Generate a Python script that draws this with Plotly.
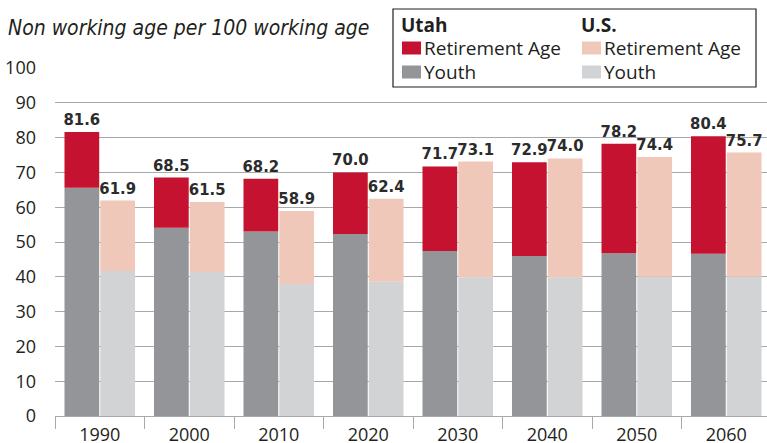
import plotly.graph_objects as go

years = ["1990", "2000", "2010", "2020", "2030", "2040", "2050", "2060"]
utah_total = [81.6, 68.5, 68.2, 70.0, 71.7, 72.9, 78.2, 80.4]
us_total = [61.9, 61.5, 58.9, 62.4, 73.1, 74.0, 74.4, 75.7]
utah_youth = [65.6, 54.1, 53.0, 52.3, 47.4, 46.0, 46.8, 46.6]
utah_retire = [16.0, 14.4, 15.2, 17.7, 24.3, 26.9, 31.4, 33.8]
us_youth = [41.7, 41.4, 37.9, 38.6, 39.9, 39.9, 40.0, 40.0]
us_retire = [20.2, 20.1, 21.0, 23.8, 33.2, 34.1, 34.4, 35.7]
y_ticks = [0, 10, 20, 30, 40, 50, 60, 70, 80, 90, 100]

C_UT_RET = "#C41230"
C_UT_YOU = "#939598"
C_US_RET = "#F0C8BA"
C_US_YOU = "#D1D3D4"
TXT = "#231F20"
COND = "DejaVu Sans Condensed, Liberation Sans Narrow, Arial Narrow, sans-serif"

W, H = 767, 443
ML, MR, MT, MB = 55, 0, 68, 27
PW, PH = W - ML - MR, H - MT - MB


def px(x):
    return (x - ML) / PW


def py(y):
    return (H - MB - y) / PH


label_font = dict(family=COND, size=16.5, color="#2B2B2B", weight="bold")

fig = go.Figure()
fig.add_trace(go.Bar(x=years, y=utah_youth, offsetgroup="utah", marker=dict(color=C_UT_YOU, line=dict(width=0)),
                     name="Utah Youth", showlegend=False, hoverinfo="skip"))
fig.add_trace(go.Bar(x=years, y=utah_retire, base=utah_youth, offsetgroup="utah",
                     marker=dict(color=C_UT_RET, line=dict(width=0)),
                     text=[f"{v:.1f}" for v in utah_total], textposition="outside", textfont=label_font,
                     constraintext="none", cliponaxis=False,
                     name="Utah Retirement Age", showlegend=False, hoverinfo="skip"))
fig.add_trace(go.Bar(x=years, y=us_youth, offsetgroup="us", marker=dict(color=C_US_YOU, line=dict(width=0)),
                     name="U.S. Youth", showlegend=False, hoverinfo="skip"))
fig.add_trace(go.Bar(x=years, y=us_retire, base=us_youth, offsetgroup="us",
                     marker=dict(color=C_US_RET, line=dict(width=0)),
                     text=[f"{v:.1f}" for v in us_total], textposition="outside", textfont=label_font,
                     constraintext="none", cliponaxis=False,
                     name="U.S. Retirement Age", showlegend=False, hoverinfo="skip"))

# Legend box and entries
shapes = [
    dict(type="rect", xref="paper", yref="paper", x0=px(393), x1=px(756), y0=py(87), y1=py(9),
         line=dict(color="#231F20", width=1.2), fillcolor="white", layer="above"),
]
annotations = [
    dict(text="<i>Non working age per 100 working age</i>", xref="paper", yref="paper",
         x=px(6), y=py(28), xanchor="left", yanchor="middle", showarrow=False,
         font=dict(family=COND, size=21, color=TXT)),
]
legend_cols = [
    (400, 402, 424, "Utah", [("Retirement Age", C_UT_RET), ("Youth", C_UT_YOU)]),
    (580, 582, 604, "U.S.", [("Retirement Age", C_US_RET), ("Youth", C_US_YOU)]),
]
for hx, sw_x0, txt_x, head, items in legend_cols:
    annotations.append(dict(text=f"<b>{head}</b>", xref="paper", yref="paper", x=px(hx - 1), y=py(25),
                            xanchor="left", yanchor="middle", showarrow=False,
                            font=dict(family="Open Sans", size=19, color=TXT)))
    for j, (lab, col) in enumerate(items):
        cy = 48 if j == 0 else 72
        shapes.append(dict(type="rect", xref="paper", yref="paper", x0=px(sw_x0), x1=px(sw_x0 + 19),
                           y0=py(cy + 6.5), y1=py(cy - 6.5), line=dict(width=0), fillcolor=col, layer="above"))
        annotations.append(dict(text=lab, xref="paper", yref="paper", x=px(txt_x - 2), y=py(cy),
                                xanchor="left", yanchor="middle", showarrow=False,
                                font=dict(family="Open Sans", size=19, color=TXT)))

fig.update_layout(
    width=W, height=H,
    margin=dict(l=ML, r=MR, t=MT, b=MB, pad=0, autoexpand=False),
    paper_bgcolor="white", plot_bgcolor="white",
    barmode="group", bargap=0.2, bargroupgap=0.03,
    showlegend=False,
    shapes=shapes, annotations=annotations,
    font=dict(family="Open Sans", color=TXT),
    xaxis=dict(type="category", range=[-0.5, 7.455], showgrid=False, automargin=False,
               showline=True, linecolor="#A7A9AC", linewidth=1,
               ticks="outside", tickson="boundaries", ticklen=12, tickcolor="#A7A9AC", tickwidth=1,
               ticklabelstandoff=2,
               tickfont=dict(family="Open Sans", size=18, color=TXT), fixedrange=True),
    yaxis=dict(range=[0, 100], tickvals=y_ticks, showgrid=True, gridcolor="#A7A9AC", gridwidth=1,
               zeroline=False, showline=False, ticks="", ticklabelstandoff=18, automargin=False,
               tickfont=dict(family="Open Sans", size=18, color=TXT), fixedrange=True),
)

fig.write_html("out.html", config={"displayModeBar": False, "staticPlot": True},
               post_script="document.body.style.margin='0';document.body.style.overflow='hidden';")
